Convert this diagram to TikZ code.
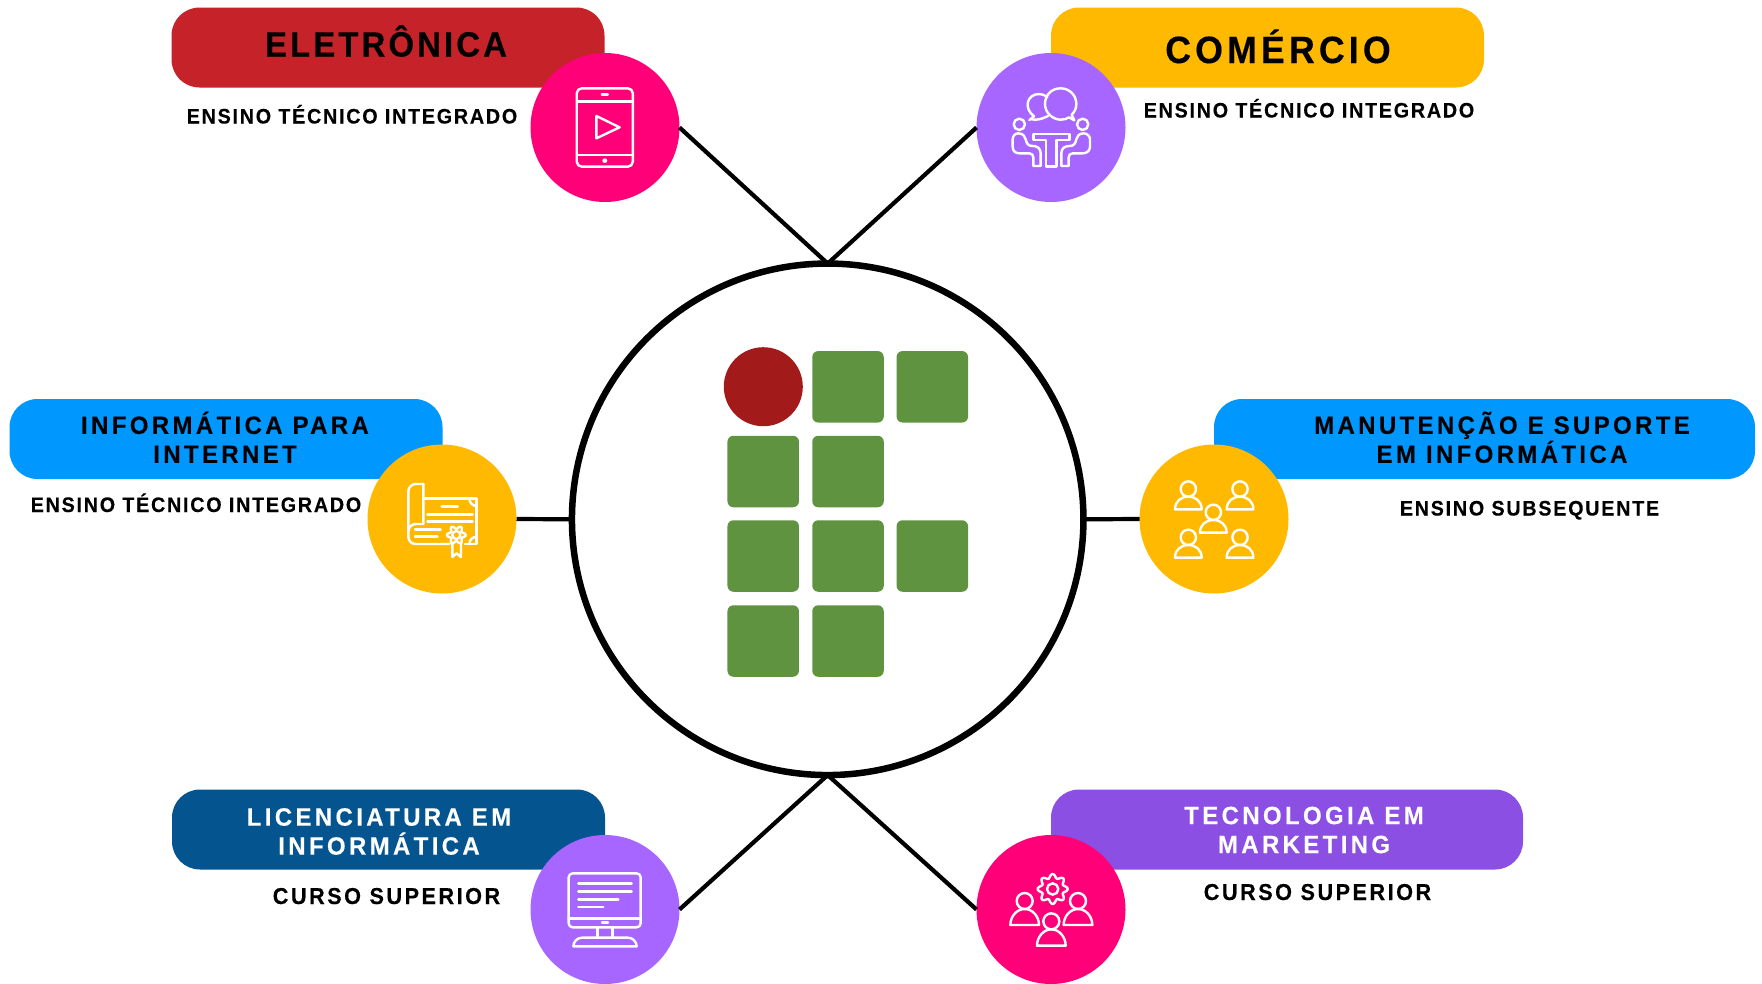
\documentclass[tikz,border=0pt]{standalone}
\usepackage{fontspec}
\setmainfont{Liberation Sans}
\newcommand\lbl[4]{\fontsize{#1}{#2}\fontspec{Liberation Sans Bold}[LetterSpace=#3,FakeStretch=#4,FakeBold=0.25]\selectfont}
\definecolor{cRed}{HTML}{C5222A}
\definecolor{cGold}{HTML}{FFB900}
\definecolor{cViolet}{HTML}{A666FF}
\definecolor{cPink}{HTML}{FF0078}
\definecolor{cBlue}{HTML}{0097FF}
\definecolor{cNavy}{HTML}{04558F}
\definecolor{cTech}{HTML}{8C4FE3}
\definecolor{cGreen}{HTML}{5F933F}
\definecolor{cLogo}{HTML}{A31A1A}
\tikzset{
  pill/.style={rectangle,rounded corners=28pt,inner sep=0,outer sep=0,minimum height=80pt,fill=#1},
  disc/.style={circle,inner sep=0,outer sep=0,minimum size=149pt,fill=#1},
  link/.style={draw=black,line width=4.2pt},
  sq/.style={rectangle,rounded corners=6pt,inner sep=0,outer sep=0,minimum size=71.5pt,fill=cGreen},
  ico/.style={draw=white,line width=2.4pt,line join=round,line cap=round},
  sub/.style={anchor=base,inner sep=0,font=\lbl{21}{25}{8.3}{0.94}},
  subb/.style={anchor=base,inner sep=0,font=\lbl{23}{27}{11}{0.94}},
  two/.style={anchor=center,inner sep=0,align=center,font=\lbl{25}{29}{13.4}{0.96}}
}
% person icon: head x,y, radius, base drop, half width
\newcommand\person[5]{%
  \draw[ico] (#1,#2) circle (#3);
  \draw[ico] ({#1-#5},{#2+#4}) .. controls ({#1-#5},{#2+#4-0.6*#5}) and ({#1-0.55*#5},{#2+#3}) .. (#1,{#2+#3})
     .. controls ({#1+0.55*#5},{#2+#3}) and ({#1+#5},{#2+#4-0.6*#5}) .. ({#1+#5},{#2+#4}) -- cycle;}
\begin{document}
\begin{tikzpicture}[x=1pt,y=-1pt]
\useasboundingbox[fill=white] (0,0) rectangle (1762,983);
% pills
\node[pill=cRed,minimum width=433pt] (pa) at (388,47.5) {};
\node[pill=cGold,minimum width=433pt] (pb) at (1267.5,47.5) {};
\node[pill=cBlue,minimum width=433pt] (pc) at (226,439) {};
\node[pill=cBlue,minimum width=541pt] (pd) at (1484.5,439) {};
\node[pill=cNavy,minimum width=433pt] (pe) at (388.5,829.5) {};
\node[pill=cTech,minimum width=472pt] (pf) at (1287,829.5) {};
% hub
\node[circle,draw=black,line width=6.5pt,fill=white,minimum size=511.5pt,inner sep=0,outer sep=0] (hub) at (827.7,519.3) {};
% discs
\node[disc=cPink] (a) at (605,127.5) {};
\node[disc=cViolet] (b) at (1051,127.5) {};
\node[disc=cGold] (c) at (442,519) {};
\node[disc=cGold] (d) at (1214,519) {};
\node[disc=cViolet] (e) at (605,909.5) {};
\node[disc=cPink] (f) at (1051,909.5) {};
% connectors
\draw[link] (a.east) -- (hub.north);
\draw[link] (b.west) -- (hub.north);
\draw[link] (c.east) -- (hub.west);
\draw[link] (d.west) -- (hub.east);
\draw[link] (e.east) -- (hub.south);
\draw[link] (f.west) -- (hub.south);
% logo
\node[circle,fill=cLogo,inner sep=0,outer sep=0,minimum size=79pt] (lr) at (763.3,386.7) {};
\node[sq] (s1) at (848,386.8) {};
\node[sq] (s2) at (932.3,386.8) {};
\node[sq] (s3) at (763.2,471.5) {};
\node[sq] (s4) at (848,471.5) {};
\node[sq] (s5) at (763.2,556) {};
\node[sq] (s6) at (848,556) {};
\node[sq] (s7) at (932.3,556) {};
\node[sq] (s8) at (763.2,641) {};
\node[sq] (s9) at (848,641) {};
% labels
\node[anchor=base,inner sep=0,font=\lbl{35}{40}{8.9}{0.94}] (ta) at (386,56.5) {ELETRÔNICA};
\node[anchor=base,inner sep=0,font=\lbl{38}{44}{10.9}{0.94}] (tb) at (1278,63) {COMÉRCIO};
\node[sub] (ua) at (352,123.5) {ENSINO TÉCNICO INTEGRADO};
\node[sub] (ub) at (1309,117.5) {ENSINO TÉCNICO INTEGRADO};
\node[sub] (uc) at (196,512) {ENSINO TÉCNICO INTEGRADO};
\node[sub] (ud) at (1529.5,515.5) {ENSINO SUBSEQUENTE};
\node[subb] (ue) at (386.5,904) {CURSO SUPERIOR};
\node[subb] (uf) at (1317.5,900) {CURSO SUPERIOR};
\node[two] (tc) at (225,437.3) {INFORMÁTICA PARA\\INTERNET};
\node[two] (td) at (1502,437.3) {MANUTENÇÃO E SUPORTE\\EM INFORMÁTICA};
\node[two,text=white] (te) at (379,831.5) {LICENCIATURA EM\\INFORMÁTICA};
\node[two,text=white] (tf) at (1304,830) {TECNOLOGIA EM\\MARKETING};
% icon a: tablet
\begin{scope}[shift={(150,0)},xscale=1/2.8,yscale=1/3]
\draw[ico] (1195,265) [rounded corners=5pt] rectangle (1352,500);
\draw[ico] (1197,305) -- (1350,305);
\draw[ico] (1197,465) -- (1350,465);
\draw[ico] (1265,284) -- (1282,284);
\fill[white] (1273.5,482) circle (7);
\draw[ico,line cap=butt] (1250,348) -- (1250,415) -- (1315,382) -- cycle;
\end{scope}
% icon b: meeting
\begin{scope}[shift={(960,40)},scale=1/3]
\draw[ico] (208,240) -- (222,229) .. controls (190,205) and (200,162) .. (238,162) .. controls (248,162) and (255,166) .. (262,172);
\draw[ico] (215,238) .. controls (228,240) and (240,240) .. (264,228);
\draw[ico] (302,145) .. controls (270,145) and (255,170) .. (255,192) .. controls (255,220) and (280,239) .. (302,239) .. controls (312,239) and (320,237) .. (327,232) -- (343,241) -- (335,224) .. controls (345,215) and (349,203) .. (349,192) .. controls (349,165) and (328,145) .. (302,145) -- cycle;
\draw[ico] (178,253) circle (17);
\draw[ico] (368,253) circle (17);
\draw[ico] (220,282) -- (328,282) -- (328,300) -- (290,300) -- (290,380) -- (258,380) -- (258,300) -- (220,300) -- cycle;
\draw[ico] (175,280) .. controls (190,280) and (195,290) .. (197,298) .. controls (200,312) and (205,318) .. (218,318) .. controls (232,318) and (242,325) .. (242,340) -- (242,378) -- (220,378) -- (220,352) .. controls (220,345) and (215,340) .. (208,340) -- (178,340) .. controls (165,340) and (158,332) .. (158,320) -- (158,298) .. controls (158,288) and (165,280) .. (175,280) -- cycle;
\draw[ico] (371,280) .. controls (356,280) and (351,290) .. (349,298) .. controls (346,312) and (341,318) .. (328,318) .. controls (314,318) and (304,325) .. (304,340) -- (304,378) -- (326,378) -- (326,352) .. controls (326,345) and (331,340) .. (338,340) -- (368,340) .. controls (381,340) and (390,332) .. (390,320) -- (390,298) .. controls (390,288) and (381,280) .. (371,280) -- cycle;
\end{scope}
% icon c: diploma
\begin{scope}[shift={(350,430)},scale=1/3]
\draw[ico] (220,162) -- (197,162) .. controls (185,162) and (175,172) .. (175,185) -- (175,320) .. controls (175,333) and (185,342) .. (197,342) -- (298,342);
\draw[ico] (220,162) -- (220,282) -- (197,282) .. controls (185,282) and (175,292) .. (175,305);
\draw[ico] (220,205) -- (380,205) -- (380,342) -- (345,342);
\draw[ico] (358,205) .. controls (358,218) and (368,228) .. (380,228);
\draw[ico] (358,342) .. controls (358,330) and (368,320) .. (380,320);
\draw[ico] (275,229) -- (323,229);
\draw[ico] (232,254) -- (368,254);
\draw[ico] (232,275) -- (368,275);
\draw[ico] (195,298) -- (272,298);
\draw[ico] (195,320) -- (262,320);
\draw[ico] plot[domain=0:360,samples=73,smooth] ({319+(23+5*cos(6*\x))*cos(\x)},{315+(23+5*cos(6*\x))*sin(\x)});
\draw[ico] (319,315) circle (12);
\draw[ico] (307,338) -- (307,381) -- (320,370) -- (333,381) -- (333,338);
\end{scope}
% icon d: group
\begin{scope}[shift={(1130,430)},scale=1/3]
\person{175}{177}{23}{61}{40}
\person{330}{177}{23}{61}{40}
\person{250}{247}{23}{61}{40}
\person{175}{322}{23}{61}{40}
\person{330}{322}{23}{61}{40}
\end{scope}
% icon e: monitor
\begin{scope}[shift={(520,830)},scale=1/3]
\draw[ico] (146,130) [rounded corners=4pt] rectangle (362,292);
\draw[ico] (146,265) -- (362,265);
\draw[ico] (246,277) -- (264,277);
\draw[ico] (175,161) -- (335,161);
\draw[ico] (175,184) -- (335,184);
\draw[ico] (175,208) -- (295,208);
\draw[ico] (175,231) -- (250,231);
\draw[ico] (233,292) -- (233,323);
\draw[ico] (277,292) -- (277,323);
\draw[ico] (160,349) .. controls (160,335) and (172,323) .. (186,323) -- (324,323) .. controls (338,323) and (350,335) .. (350,349) -- cycle;
\end{scope}
% icon f: team and gear
\begin{scope}[shift={(970,830)},scale=1/3]
\draw[ico] plot[domain=0:360,samples=97,smooth] ({248+(39+6*cos(8*\x))*cos(\x)},{177+(39+6*cos(8*\x))*sin(\x)});
\draw[ico] (248,177) circle (17);
\person{164}{213}{24}{72}{43}
\person{324}{213}{24}{72}{43}
\person{244}{274}{24}{73}{43}
\end{scope}
\end{tikzpicture}
\end{document}
